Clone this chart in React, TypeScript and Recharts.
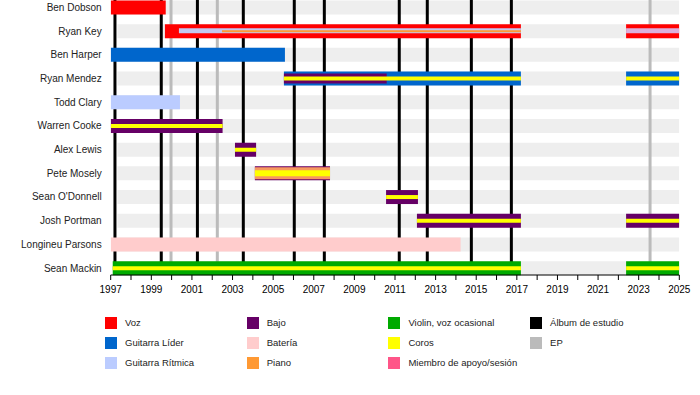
import React from 'react';
import { BarChart, Bar, XAxis, YAxis, ReferenceLine, Cell } from 'recharts';

type R = [number, number] | null;
const N = null;

const members = [
  'Ben Dobson', 'Ryan Key', 'Ben Harper', 'Ryan Mendez', 'Todd Clary', 'Warren Cooke',
  'Alex Lewis', 'Pete Mosely', "Sean O'Donnell", 'Josh Portman', 'Longineu Parsons', 'Sean Mackin',
];

const legendItems = [
  { key: 'voz', label: 'Voz', color: '#ff0000' },
  { key: 'lider', label: 'Guitarra Líder', color: '#0066cc' },
  { key: 'ritmica', label: 'Guitarra Rítmica', color: '#bbccff' },
  { key: 'bajo', label: 'Bajo', color: '#660066' },
  { key: 'bateria', label: 'Batería', color: '#ffcccc' },
  { key: 'piano', label: 'Piano', color: '#ff9933' },
  { key: 'violin', label: 'Violin, voz ocasional', color: '#00aa00' },
  { key: 'coros', label: 'Coros', color: '#ffff00' },
  { key: 'apoyo', label: 'Miembro de apoyo/sesión', color: '#ff5588' },
  { key: 'album', label: 'Álbum de estudio', color: '#000000' },
  { key: 'ep', label: 'EP', color: '#bbbbbb' },
];
const colorOf = (k: string) => legendItems.find((l) => l.key === k)!.color;

const years = Array.from({ length: 29 }, (_, i) => 1997 + i);
const albumYears = [1997.21, 1999.49, 2001.27, 2003.53, 2006.04, 2007.52, 2011.21, 2012.59, 2014.76, 2016.73];
const epYears = [1999.97, 2002.25, 2023.56];

const rowBand: [number, number] = [1997.33, 2025];

// Outer bars, first period
const outerA: R[] = [
  [1997, 1999.71], [1999.67, 2017.2], [1997, 2005.58], [2005.53, 2017.2], [1997, 2000.41], [1997, 2002.51],
  [2003.12, 2004.16], [2004.1, 2007.8], [2010.56, 2012.13], [2012.08, 2017.2], [1997, 2014.23], [1997.1, 2017.2],
];
const outerARoles = ['voz', 'voz', 'lider', 'lider', 'ritmica', 'bajo', 'bajo', 'bajo', 'bajo', 'bajo', 'bateria', 'violin'];
// Outer bars, second period
const outerB: R[] = [N, [2022.38, 2025], N, [2022.38, 2025], N, N, N, N, N, [2022.38, 2025], N, [2022.38, 2025]];
const outerBRoles = ['voz', 'voz', 'lider', 'lider', 'ritmica', 'bajo', 'bajo', 'bajo', 'bajo', 'bajo', 'bateria', 'violin'];

// Inner stripes
const mendezBass: R[] = [N, N, N, [2005.53, 2010.59], N, N, N, N, N, N, N, N];
const peteMid: R[] = [N, N, N, N, N, N, N, [2004.1, 2007.8], N, N, N, N];
const keyInnerA: R[] = [N, [2000.36, 2017.2], N, N, N, N, N, N, N, N, N, N];
const keyInnerB: R[] = [N, [2022.38, 2025], N, N, N, N, N, N, N, N, N, N];
const keyPiano: R[] = [N, [2002.48, 2017.2], N, N, N, N, N, N, N, N, N, N];
const corosA: R[] = [N, N, N, [2005.53, 2017.2], N, [1997, 2002.51], [2003.12, 2004.16], N, [2010.56, 2012.13], [2012.08, 2017.2], N, [1997.1, 2017.2]];
const corosB: R[] = [N, N, N, [2022.38, 2025], N, N, N, N, N, [2022.38, 2025], N, [2022.38, 2025]];
const corosPete: R[] = [N, N, N, N, N, N, N, [2004.1, 2007.8], N, N, N, N];

const data = members.map((name, i) => ({
  name,
  band: rowBand,
  oA: outerA[i],
  oB: outerB[i],
  mb: mendezBass[i],
  pm: peteMid[i],
  kA: keyInnerA[i],
  kB: keyInnerB[i],
  kp: keyPiano[i],
  cA: corosA[i],
  cB: corosB[i],
  cP: corosPete[i],
}));

const PAD = { top: -4.55, bottom: -4.85 };
const hiddenAxes = ['oA', 'oB', 'mb', 'pm', 'kA', 'kB', 'kp', 'cA', 'cB', 'cP'];

const NameTick = (props: any) => {
  const { x, y, payload } = props;
  return (
    <text x={x} y={y} textAnchor="end" dominantBaseline="central" fontSize={10} fill="#222">
      {payload.value}
    </text>
  );
};

export default function App() {
  return (
    <div style={{ position: 'absolute', left: 0, top: 0, width: 700, height: 395, overflow: 'hidden', fontFamily: '"Liberation Sans", Arial, sans-serif', background: '#fff' }}>
      <BarChart width={700} height={395} data={data} layout="vertical" margin={{ top: 0, right: 20.7, bottom: 90, left: 10.7 }}>
        <XAxis
          type="number"
          domain={[1997, 2025]}
          ticks={years}
          interval={0}
          tickFormatter={(v: number) => ((v - 1997) % 2 === 0 ? String(v) : '')}
          tick={{ fontSize: 10, fill: '#000' }}
          tickSize={5}
          tickMargin={6}
          axisLine={{ stroke: '#000' }}
          tickLine={{ stroke: '#000' }}
          allowDataOverflow
        />
        <YAxis
          yAxisId="band"
          type="category"
          dataKey="name"
          width={100}
          interval={0}
          axisLine={false}
          tickLine={false}
          tickSize={6}
          tickMargin={3}
          tick={<NameTick />}
          padding={PAD}
        />
        <YAxis yAxisId="lines" type="category" dataKey="name" hide />
        {hiddenAxes.map((id) => (
          <YAxis key={id} yAxisId={id} type="category" dataKey="name" hide padding={PAD} />
        ))}
        <Bar yAxisId="band" dataKey="band" fill="#eeeeee" barSize={14} isAnimationActive={false} zIndex={100} />
        {albumYears.map((x) => (
          <ReferenceLine key={'a' + x} x={x} yAxisId="lines" stroke={colorOf('album')} strokeWidth={3} zIndex={200} />
        ))}
        {epYears.map((x) => (
          <ReferenceLine key={'e' + x} x={x} yAxisId="lines" stroke={colorOf('ep')} strokeWidth={3} zIndex={200} />
        ))}
        <Bar yAxisId="oA" dataKey="oA" barSize={14} isAnimationActive={false}>
          {outerARoles.map((r, i) => (
            <Cell key={i} fill={colorOf(r)} />
          ))}
        </Bar>
        <Bar yAxisId="oB" dataKey="oB" barSize={14} isAnimationActive={false}>
          {outerBRoles.map((r, i) => (
            <Cell key={i} fill={colorOf(r)} />
          ))}
        </Bar>
        <Bar yAxisId="mb" dataKey="mb" barSize={10} fill={colorOf('bajo')} isAnimationActive={false} />
        <Bar yAxisId="pm" dataKey="pm" barSize={12} fill="#f7985f" isAnimationActive={false} />
        <Bar yAxisId="kA" dataKey="kA" barSize={5} fill="#c4c8f0" isAnimationActive={false} />
        <Bar yAxisId="kB" dataKey="kB" barSize={5} fill="#dcb0dc" isAnimationActive={false} />
        <Bar yAxisId="kp" dataKey="kp" barSize={2} fill={colorOf('piano')} isAnimationActive={false} />
        <Bar yAxisId="cA" dataKey="cA" barSize={4} fill={colorOf('coros')} isAnimationActive={false} />
        <Bar yAxisId="cB" dataKey="cB" barSize={4} fill={colorOf('coros')} isAnimationActive={false} />
        <Bar yAxisId="cP" dataKey="cP" barSize={6} fill={colorOf('coros')} isAnimationActive={false} />
      </BarChart>
      {legendItems.map((it, i) => {
        const col = i < 9 ? Math.floor(i / 3) : 3;
        const row = i < 9 ? i % 3 : i - 9;
        return (
          <div
            key={it.key}
            style={{ position: 'absolute', left: 105 + col * 141.7, top: 317 + row * 20, height: 12, display: 'flex', alignItems: 'center', whiteSpace: 'nowrap' }}
          >
            <div style={{ width: 12, height: 12, background: it.color }} />
            <span style={{ marginLeft: 8, fontSize: 9.5, color: '#222', lineHeight: '12px' }}>{it.label}</span>
          </div>
        );
      })}
    </div>
  );
}
